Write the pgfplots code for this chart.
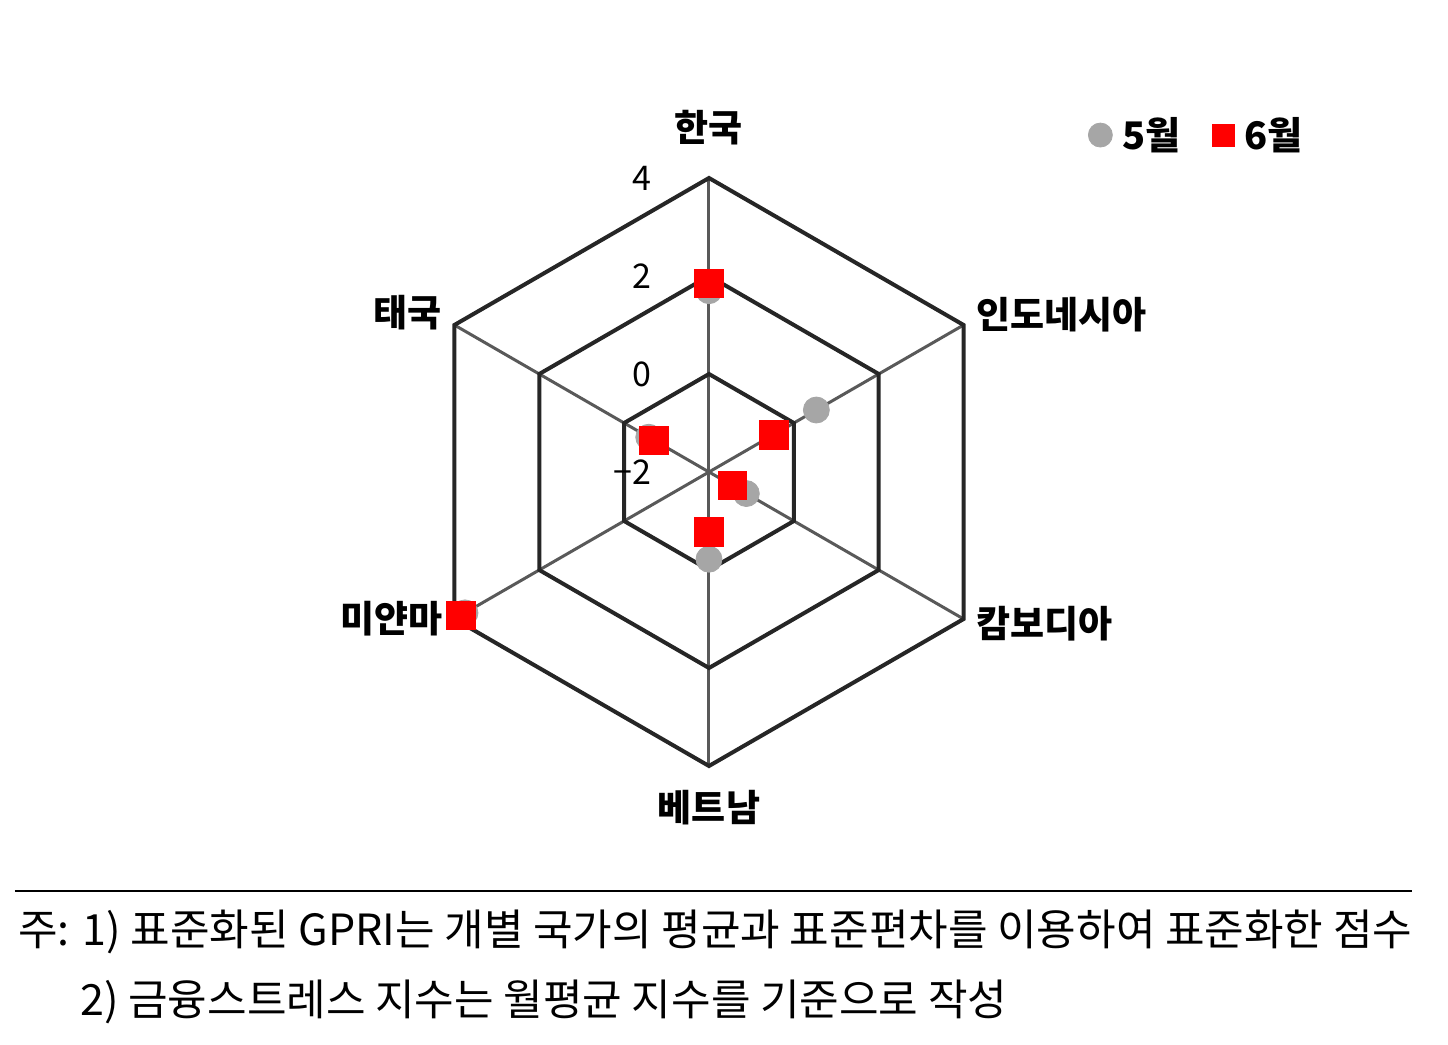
\documentclass[border=0pt]{standalone}
\usepackage{fontspec}
\setmainfont{Noto Sans CJK KR}
\usepackage{pgfplots}
\pgfplotsset{compat=1.18}
\usepgfplotslibrary{polar}

\definecolor{ringc}{HTML}{262626}
\definecolor{spokec}{HTML}{595959}
\definecolor{maygray}{HTML}{A6A6A6}

\begin{document}
\begin{tikzpicture}
\begin{polaraxis}[
  scale only axis, width=294pt, height=294pt,
  xmin=0, xmax=360, ymin=-2, ymax=4,
  y coord trafo/.code={\pgfmathparse{#1+2}},
  y coord inv trafo/.code={\pgfmathparse{#1-2}},
  hide axis, clip=false,
  legend style={draw=none, fill=none, at={(axis cs:41.64,8.35)}, anchor=west,
    legend columns=2, font=\bfseries\fontsize{19pt}{22pt}\selectfont,
    inner sep=0pt, nodes={inner xsep=5pt, inner ysep=2pt},
    /tikz/every even column/.append style={column sep=11pt}},
  legend image code/.code={\draw[#1] plot coordinates {(0pt,0pt)};},
]
% spokes
\addplot[spokec, line width=1.5pt, forget plot] coordinates {(90,4)(270,4)};
\addplot[spokec, line width=1.5pt, forget plot] coordinates {(30,4)(210,4)};
\addplot[spokec, line width=1.5pt, forget plot] coordinates {(150,4)(330,4)};
% rings
\addplot[ringc, line width=2pt, line join=miter, forget plot] coordinates {(90,4)(30,4)(330,4)(270,4)(210,4)(150,4)(90,4)(30,4)};
\addplot[ringc, line width=2pt, line join=miter, forget plot] coordinates {(90,2)(30,2)(330,2)(270,2)(210,2)(150,2)(90,2)(30,2)};
\addplot[ringc, line width=2pt, line join=miter, forget plot] coordinates {(90,0)(30,0)(330,0)(270,0)(210,0)(150,0)(90,0)(30,0)};

% 5월
\addplot[only marks, mark=*, color=maygray, mark size=6.5pt, forget plot] coordinates {
  (90,1.70) (30,0.53) (330,-1.12) (270,-0.22) (210,3.75) (150,-0.58)};
% 6월
\addplot[only marks, mark=square*, color=red, mark size=7.2pt, forget plot] coordinates {
  (90,1.85) (30,-0.47) (330,-1.45) (270,-0.78) (210,3.85) (150,-0.71)};

\addlegendimage{only marks, mark=*, color=maygray, mark size=6pt}
\addlegendentry{5월}
\addlegendimage{only marks, mark=square*, color=red, mark size=5.5pt}
\addlegendentry{6월}

% category labels
\tikzset{cat/.style={inner sep=0pt, font=\bfseries\fontsize{18.5pt}{21pt}\selectfont}}
\node[cat, yshift=25pt] at (axis cs:90,4) {한국};
\node[cat, anchor=west, xshift=6pt, yshift=5pt] at (axis cs:30,4) {인도네시아};
\node[cat, anchor=west, xshift=6pt, yshift=-2.5pt] at (axis cs:330,4) {캄보디아};
\node[cat, yshift=-21pt] at (axis cs:270,4) {베트남};
\node[cat, anchor=east, xshift=-5.5pt] at (axis cs:210,4) {미얀마};
\node[cat, anchor=east, xshift=-6pt, yshift=6pt] at (axis cs:150,4) {태국};

% ring values
\tikzset{tk/.style={inner sep=0pt, anchor=east, xshift=-28.5pt, font=\fontsize{17pt}{20pt}\selectfont}}
\node[tk] at (axis cs:90,4) {4};
\node[tk] at (axis cs:90,2) {2};
\node[tk] at (axis cs:90,0) {0};
\node[tk] at (axis cs:90,-2) {−2};

\coordinate (O) at (axis cs:0,-2);
\end{polaraxis}

\begin{scope}[shift={(O)}, x=0.5pt, y=-0.5pt]
\draw[line width=1pt] (-694,419) -- (703,419);
\node[anchor=west, inner sep=0pt, font=\fontsize{21.5pt}{25pt}\selectfont] at (-691,460)
  {주: 1) 표준화된 GPRI는 개별 국가의 평균과 표준편차를 이용하여 표준화한 점수};
\node[anchor=west, inner sep=0pt, font=\fontsize{21.5pt}{25pt}\selectfont] at (-629,530)
  {2) 금융스트레스 지수는 월평균 지수를 기준으로 작성};
\pgfresetboundingbox
\path[use as bounding box] (-709,-472) rectangle (739,573);
\end{scope}
\end{tikzpicture}
\end{document}
